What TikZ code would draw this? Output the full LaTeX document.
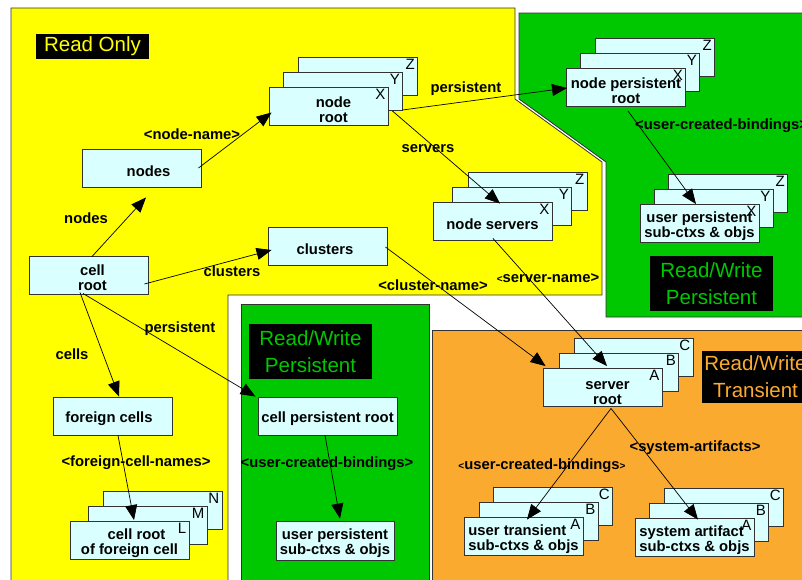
\documentclass[tikz,border=0pt]{standalone}
\usepackage{fontspec}
\setmainfont{Liberation Sans}
\usetikzlibrary{arrows.meta,calc}
\definecolor{cy}{RGB}{217,255,255}
\definecolor{yel}{RGB}{255,255,0}
\definecolor{grn}{RGB}{0,200,0}
\definecolor{org}{RGB}{251,170,48}
\definecolor{edge}{RGB}{50,50,50}
\newcommand\mkstack[9]{%
 \node[box] (#1C) at ({#2+#4+#5},{#3-30}) {};
 \node[ltr] at ($(#1C.north east)+(-3,2)$) {#8};
 \node[box] (#1B) at ({#2+#4},{#3-15}) {};
 \node[ltr] at ($(#1B.north east)+(-3,2)$) {#7};
 \node[box,label={[btxt,stacktext]center:{#9}}] (#1) at (#2,#3) {};
 \node[ltr] at ($(#1.north east)+(-3,2)$) {#6};
}
\newcommand\sh[1]{\hspace*{#1pt}}
\begin{document}
\begin{tikzpicture}[x=1pt,y=-1pt,
 box/.style={draw=edge,fill=cy,line width=0.9pt,minimum width=119pt,minimum height=38pt,inner sep=0pt},
 btxt/.style={inner sep=0pt,align=center,yshift=-3pt,font=\bfseries\fontsize{14.8}{15}\selectfont},
 bt/.style={label={[btxt]center:{#1}}},
 ltr/.style={inner sep=0pt,anchor=north east,font=\fontsize{15}{15}\selectfont},
 lbl/.style={inner sep=0pt,font=\bfseries\fontsize{14.8}{15}\selectfont},
 region/.style={draw=edge,line width=0.8pt},
 rwlabel/.style={fill=black,inner sep=0pt,align=center,font=\fontsize{20.5}{27}\selectfont},
 arr/.style={-{Triangle[length=15pt,width=12pt]},line width=0.7pt,black},
 stacktext/.style={}]
\useasboundingbox (0,0) rectangle (802,579);
\clip (0,0) rectangle (802,579);
\fill[white] (0,0) rectangle (802,579);
% regions
\draw[region,fill=yel] (11,8) -- (515,8) -- (515,99) -- (602,162) -- (602,295) -- (228,295) -- (228,590) -- (11,590) -- cycle;
\draw[region,fill=grn] (519,13) -- (810,13) -- (810,317) -- (606,317) -- (606,162) -- (519,99) -- cycle;
\draw[region,fill=grn] (241,304) rectangle (429,590);
\draw[region,fill=org] (432,330) rectangle (810,590);
% region titles
\node[rwlabel,text=yel,minimum width=113pt,minimum height=25pt] (ro) at (92.5,46.5) {Read Only};
\node[rwlabel,text=grn,minimum width=123pt,minimum height=55pt] (rwp1) at (711.5,283.5) {Read/Write\\Persistent};
\node[rwlabel,text=grn,minimum width=123pt,minimum height=55pt] (rwp2) at (310.5,351.5) {Read/Write\\Persistent};
\node[rwlabel,text=org,minimum width=107pt,minimum height=52pt] (rwt) at (755.5,377) {Read/Write\\Transient};
% single boxes
\node[box,bt={\sh{14}nodes}] (nodes) at (141.5,168) {};
\node[box,bt={\sh{8}cell\\\sh{8}root}] (cr) at (88.5,275) {};
\node[box,bt={clusters\sh{5}}] (cl) at (327.5,246) {};
\node[box,bt={foreign cells\sh{7}}] (fc) at (112.5,416) {};
\node[box,minimum width=139pt,bt={cell persistent root}] (cpr) at (327.5,416) {};
\node[box,minimum width=118pt,minimum height=39pt,bt={user persistent\\sub-ctxs \& objs}] (upm) at (335,540.5) {};
% stacks
\mkstack{nr}{328.5}{106.5}{14.5}{15}{X}{Y}{Z}{\sh{10}node\\\sh{10}root}
\mkstack{ns}{492.5}{221}{19.5}{15.5}{X}{Y}{Z}{node servers}
\mkstack{np}{626}{87.5}{14}{15}{X}{Y}{Z}{node persistent\\root}
\mkstack{up}{699.5}{223.5}{14}{14.5}{X}{Y}{Z}{user persistent\\sub-ctxs \& objs}
\tikzset{stacktext/.style={yshift=-2.5pt}}
\mkstack{sr}{602.5}{387.5}{16.5}{14.5}{A}{B}{C}{\sh{10}server\\\sh{10}root}
\tikzset{stacktext/.style={}}
\mkstack{crf}{129.5}{540.5}{18}{15}{L}{M}{N}{\sh{14}cell root\\of foreign cell}
\tikzset{stacktext/.style={align=left}}
\mkstack{ut}{523.5}{536}{15}{14.5}{A}{B}{C}{user transient\\sub-ctxs \& objs}
\mkstack{sa}{694.5}{537.5}{14.5}{15}{A}{B}{C}{system artifact\\sub-ctxs \& objs}
% connector labels
\node[lbl] at (86,218) {nodes};
\node[lbl] at (192,134) {<node-name>};
\node[lbl] at (466,89) {persistent};
\node[lbl] at (428,149) {servers};
\node[lbl] at (232,271) {clusters};
\node[lbl] at (433,285) {<cluster-name>};
\node[lbl] at (548,278) {{\fontsize{10}{10}\selectfont<}server-name>};
\node[lbl,anchor=west] at (635,126) {<user-created-bindings>};
\node[lbl] at (180,329) {persistent};
\node[lbl] at (72,354) {cells};
\node[lbl] at (136,463) {<foreign-cell-names>};
\node[lbl] at (327,464) {<user-created-bindings>};
\node[lbl] at (542,466) {{\fontsize{10}{10}\selectfont<}user-created-bindings{\fontsize{10}{10}\selectfont>}};
\node[lbl] at (695,448) {<system-artifacts>};
% connectors
\draw[arr] ($(nodes.east)+(-3,0)$) -- ($(nr.west)+(3,6)$);
\draw[arr] ($(cr.north)+(3.5,1)$) -- ($(nodes.south)+(4.5,10)$);
\draw[arr] ($(cr.east)+(-4,9)$) -- ($(cl.west)+(4,4)$);
\draw[arr] ($(nr.east)+(4,4.5)$) -- ($(ns.north)+(7.5,2)$);
\draw[arr] ($(nr.east)+(14,3.5)$) -- ($(np.west)+(1,0.5)$);
\draw[arr] ($(np.south)+(2,4)$) -- ($(up.north)+(-3.5,0)$);
\draw[arr] ($(cl.east)+(-2,1)$) -- ($(sr.north west)+(3,-2)$);
\draw[arr] ($(ns.south)+(0.5,-2)$) -- ($(sr.north)+(4.5,-2)$);
\draw[arr] ($(cr.south)+(-8.5,-2)$) -- ($(fc.north)+(6.5,0)$);
\draw[arr] ($(cr.south)+(-5.5,-1)$) -- ($(cpr.north west)+(-2,0)$);
\draw[arr] ($(fc.south)+(5.5,0)$) -- ($(crf.north)+(4.5,-1)$);
\draw[arr] ($(cpr.south)+(-2.5,0)$) -- ($(upm.north)+(5,-2)$);
\draw[arr] ($(sr.south)+(8.5,1.5)$) -- ($(ut.north)+(3.5,3)$);
\draw[arr] ($(sr.south)+(8.5,1.5)$) -- ($(sa.north)+(3.5,1.5)$);
\end{tikzpicture}
\end{document}
